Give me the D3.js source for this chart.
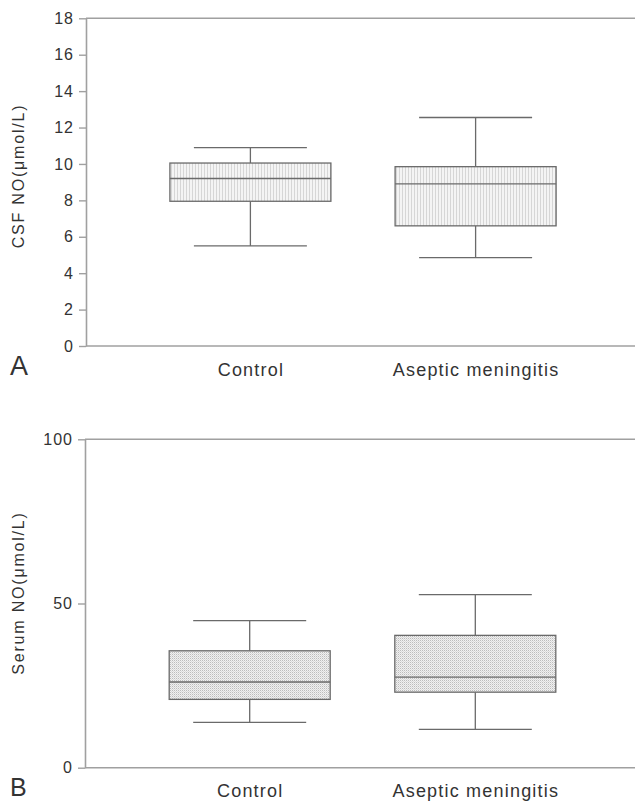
<!DOCTYPE html>
<html>
<head>
<meta charset="utf-8">
<script src="https://cdn.jsdelivr.net/npm/d3@7/dist/d3.min.js"></script>
<style>
  html, body { margin: 0; padding: 0; background: #fff; }
  svg { display: block; }
  text { font-family: "Liberation Sans", Arial, sans-serif; fill: #333; }
</style>
</head>
<body>
<script>
// ---- data ----
const categories = ["Control", "Aseptic meningitis"];
// CSF NO (µmol/L): [lower whisker, Q1, median, Q3, upper whisker]
const csfLow    = [5.5, 4.85];
const csfQ1     = [7.95, 6.6];
const csfMedian = [9.2, 8.9];
const csfQ3     = [10.05, 9.85];
const csfHigh   = [10.9, 12.55];
// Serum NO (µmol/L)
const serumLow    = [13.8, 11.7];
const serumQ1     = [20.8, 23.0];
const serumMedian = [26.1, 27.6];
const serumQ3     = [35.6, 40.3];
const serumHigh   = [44.8, 52.7];

const csfTicks = [0, 2, 4, 6, 8, 10, 12, 14, 16, 18];
const serumTicks = [0, 50, 100];

const W = 635, H = 801;
const svg = d3.select("body").append("svg").attr("width", W).attr("height", H);

const defs = svg.append("defs");
// vertical stripe pattern (panel A)
const pA = defs.append("pattern").attr("id", "stripes").attr("patternUnits", "userSpaceOnUse")
  .attr("width", 3).attr("height", 3);
pA.append("rect").attr("width", 3).attr("height", 3).attr("fill", "#f4f4f4");
pA.append("rect").attr("x", 0).attr("width", 1).attr("height", 3).attr("fill", "#d6d6d6");
// dotted pattern (panel B)
const pB = defs.append("pattern").attr("id", "dots").attr("patternUnits", "userSpaceOnUse")
  .attr("width", 2).attr("height", 2);
pB.append("rect").attr("width", 2).attr("height", 2).attr("fill", "#f0f0f0");
pB.append("rect").attr("width", 1).attr("height", 1).attr("fill", "#bcbcbc");
pB.append("rect").attr("x", 1).attr("y", 1).attr("width", 1).attr("height", 1).attr("fill", "#dadada");

function panel(cfg) {
  const g = svg.append("g");
  const x = d3.scalePoint().domain(categories).range([cfg.left, 640]).padding(0.73);
  const y = d3.scaleLinear().domain([0, cfg.max]).range([cfg.bottom, cfg.top]);

  // top frame line
  g.append("line")
    .attr("x1", cfg.left).attr("x2", W)
    .attr("y1", y(cfg.max)).attr("y2", y(cfg.max))
    .attr("stroke", "#a0a0a0").attr("stroke-width", 1.6);

  // left axis
  const ya = g.append("g").attr("transform", `translate(${cfg.left},0)`)
    .call(d3.axisLeft(y).tickValues(cfg.ticks).tickSize(7).tickSizeOuter(0).tickPadding(5));
  ya.select(".domain").attr("stroke", "#a0a0a0").attr("stroke-width", 1.6);
  ya.selectAll(".tick line").attr("stroke", "#a0a0a0").attr("stroke-width", 1.4);
  ya.selectAll(".tick text").attr("font-size", 16).attr("fill", "#333")
    .style("letter-spacing", "1px")
    .attr("font-family", "'Liberation Sans', Arial, sans-serif");

  // bottom axis
  const xa = g.append("g").attr("transform", `translate(0,${cfg.bottom})`)
    .call(d3.axisBottom(x).tickSize(0).tickPadding(17));
  xa.select(".domain").remove();
  g.append("line")
    .attr("x1", cfg.left).attr("x2", W)
    .attr("y1", y(0)).attr("y2", y(0))
    .attr("stroke", "#a0a0a0").attr("stroke-width", 1.6);
  xa.selectAll(".tick text").attr("font-size", 18).attr("fill", "#333")
    .style("letter-spacing", "1.2px")
    .attr("font-family", "'Liberation Sans', Arial, sans-serif");

  // y label
  g.append("text")
    .attr("transform", `translate(${cfg.labelX},${cfg.labelY}) rotate(-90)`)
    .attr("text-anchor", "middle")
    .attr("font-size", 16)
    .style("letter-spacing", "1.8px")
    .text(cfg.label);

  // panel letter
  g.append("text").attr("x", 10).attr("y", cfg.letterY)
    .attr("font-size", cfg.letterSize).attr("fill", "#111").text(cfg.letter);

  // boxes
  const boxHalf = 80.5, capHalf = 56.5;
  const stroke = "#6a6a6a";
  categories.forEach((c, i) => {
    const cx = x(c);
    g.append("line").attr("x1", cx).attr("x2", cx)
      .attr("y1", y(cfg.high[i])).attr("y2", y(cfg.q3[i]))
      .attr("stroke", stroke).attr("stroke-width", 1.3);
    g.append("line").attr("x1", cx).attr("x2", cx)
      .attr("y1", y(cfg.q1[i])).attr("y2", y(cfg.low[i]))
      .attr("stroke", stroke).attr("stroke-width", 1.3);
    [cfg.high[i], cfg.low[i]].forEach(v => {
      g.append("line").attr("x1", cx - capHalf).attr("x2", cx + capHalf)
        .attr("y1", y(v)).attr("y2", y(v))
        .attr("stroke", stroke).attr("stroke-width", 1.3);
    });
    g.append("rect")
      .attr("x", cx - boxHalf).attr("width", boxHalf * 2)
      .attr("y", y(cfg.q3[i])).attr("height", y(cfg.q1[i]) - y(cfg.q3[i]))
      .attr("fill", `url(#${cfg.pattern})`)
      .attr("stroke", stroke).attr("stroke-width", 1.3);
    g.append("line").attr("x1", cx - boxHalf).attr("x2", cx + boxHalf)
      .attr("y1", y(cfg.median[i])).attr("y2", y(cfg.median[i]))
      .attr("stroke", stroke).attr("stroke-width", 1.3);
  });
}

panel({
  left: 86, top: 18.3, bottom: 346, max: 18, ticks: csfTicks,
  low: csfLow, q1: csfQ1, median: csfMedian, q3: csfQ3, high: csfHigh,
  label: "CSF NO(\u03bcmol/L)", labelX: 24, labelY: 176,
  letter: "A", letterY: 375, letterSize: 27, pattern: "stripes"
});

panel({
  left: 85, top: 439.3, bottom: 767.7, max: 100, ticks: serumTicks,
  low: serumLow, q1: serumQ1, median: serumMedian, q3: serumQ3, high: serumHigh,
  label: "Serum NO(\u03bcmol/L)", labelX: 24, labelY: 593,
  letter: "B", letterY: 796, letterSize: 25, pattern: "dots"
});
</script>
</body>
</html>
